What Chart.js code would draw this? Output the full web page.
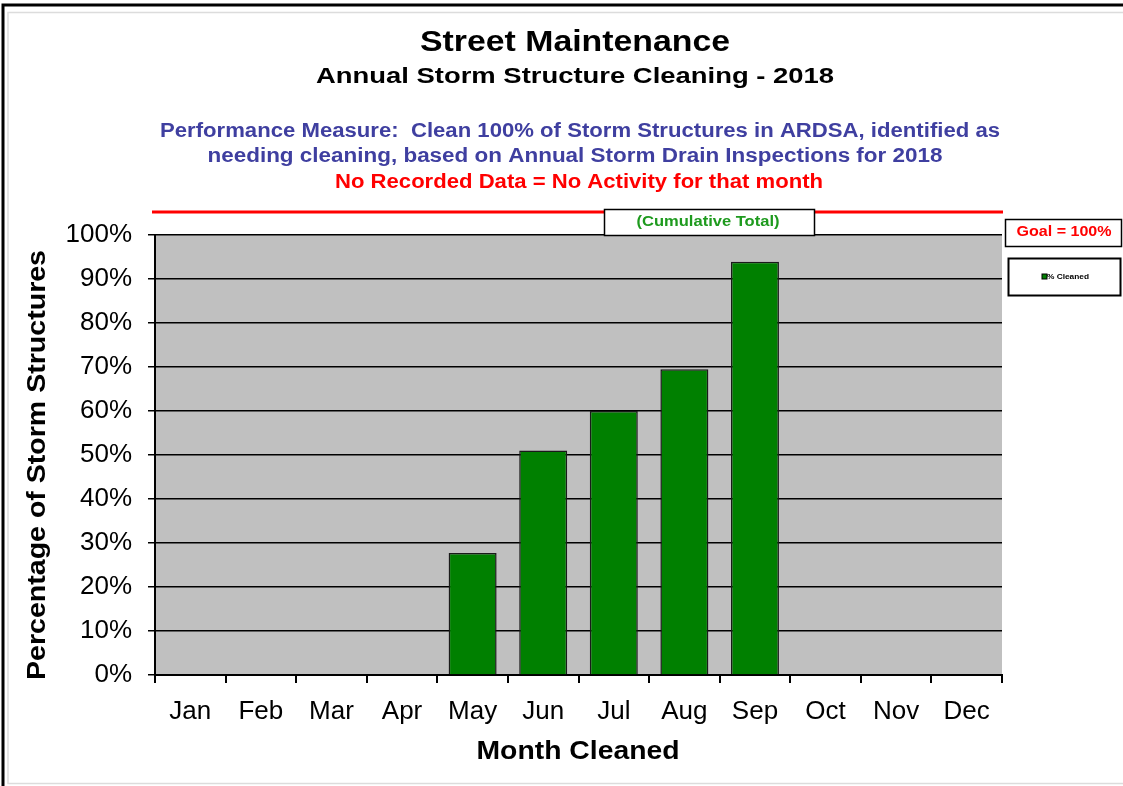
<!DOCTYPE html>
<html>
<head>
<meta charset="utf-8">
<script src="https://cdn.jsdelivr.net/npm/chart.js@4"></script>
<style>
html,body{margin:0;padding:0;background:#fff;}
#wrap{position:relative;width:1123px;height:786px;}
canvas{display:block;}
</style>
</head>
<body>
<div id="wrap"><canvas id="c" width="1123" height="786"></canvas></div>
<script>
const months = ["Jan","Feb","Mar","Apr","May","Jun","Jul","Aug","Sep","Oct","Nov","Dec"];
const pctCleaned = [null,null,null,null,27.7,51,60,69.5,93.9,null,null,null];
const yTicks = [0,10,20,30,40,50,60,70,80,90,100];
const goal = 100;
const titleText = "Street Maintenance";
const subtitleText = "Annual Storm Structure Cleaning - 2018";
const measureLines = ["Performance Measure:  Clean 100% of Storm Structures in ARDSA, identified as","needing cleaning, based on Annual Storm Drain Inspections for 2018"];
const noteText = "No Recorded Data = No Activity for that month";
const FONT = "'Liberation Sans', Arial, sans-serif";

function fitText(ctx, text, cx, cy, font, width, rot){
  ctx.save();
  ctx.font = font;
  ctx.textAlign='center';ctx.textBaseline='middle';
  const w = ctx.measureText(text).width;
  ctx.translate(cx, cy);
  if (rot) ctx.rotate(rot);
  ctx.scale(width / w, 1);
  ctx.fillText(text, 0, 0);
  ctx.restore();
}

const decor = {
  id:'decor',
  beforeDraw(chart){
    const {ctx, chartArea:a} = chart;
    ctx.save();
    ctx.fillStyle='#fff';ctx.fillRect(0,0,chart.width,chart.height);
    ctx.strokeStyle='#000';ctx.lineWidth=3;
    ctx.beginPath();ctx.moveTo(3,786);ctx.lineTo(3,5);ctx.lineTo(1123,5);ctx.stroke();
    ctx.strokeStyle='#dcdcdc';ctx.lineWidth=1.5;
    ctx.strokeRect(8,12.5,1120,771);
    ctx.fillStyle='#C0C0C0';
    ctx.fillRect(a.left,a.top,a.right-a.left,a.bottom-a.top);
    ctx.restore();
  },
  afterDraw(chart){
    const {ctx} = chart;
    ctx.save();
    ctx.fillStyle='#000';
    fitText(ctx, titleText, 575, 43, "bold 29px "+FONT, 310);
    fitText(ctx, subtitleText, 575, 77, "bold 22px "+FONT, 518);
    ctx.fillStyle='#3F3FA0';
    fitText(ctx, measureLines[0], 580, 131, "bold 20px "+FONT, 840);
    fitText(ctx, measureLines[1], 575, 156, "bold 20px "+FONT, 735);
    ctx.fillStyle='#FF0000';
    fitText(ctx, noteText, 579, 182, "bold 20px "+FONT, 488);
    // goal line
    ctx.strokeStyle='#FF0000';ctx.lineWidth=3;
    ctx.beginPath();ctx.moveTo(152,212);ctx.lineTo(1003,212);ctx.stroke();
    // cumulative box
    ctx.fillStyle='#fff';ctx.fillRect(604,209,210,26);
    ctx.strokeStyle='#000';ctx.lineWidth=1.5;ctx.strokeRect(604.5,209.5,210,26);
    ctx.fillStyle='#1E9A1E';
    fitText(ctx, "(Cumulative Total)", 708, 222, "bold 14px "+FONT, 143);
    // goal box
    ctx.fillStyle='#fff';ctx.fillRect(1005,219,116,27);
    ctx.strokeStyle='#000';ctx.lineWidth=1.5;ctx.strokeRect(1005.5,219.5,116,27);
    ctx.fillStyle='#FF0000';
    fitText(ctx, "Goal = "+goal+"%", 1064, 232, "bold 14px "+FONT, 95);
    // legend box
    ctx.strokeStyle='#000';ctx.lineWidth=2;ctx.strokeRect(1008.5,258.5,112,37);
    ctx.fillStyle='#008000';ctx.fillRect(1042,274,5,5);
    ctx.strokeStyle='#000';ctx.lineWidth=1;ctx.strokeRect(1042,274,5,5);
    ctx.fillStyle='#000';
    fitText(ctx, "% Cleaned", 1068, 277, "bold 7px "+FONT, 42);
    // axis titles
    fitText(ctx, "Month Cleaned", 578, 752, "bold 25px "+FONT, 203);
    fitText(ctx, "Percentage of Storm Structures", 38, 465, "bold 25px "+FONT, 430, -Math.PI/2);
    ctx.restore();
  }
};

new Chart(document.getElementById('c'),{
  type:'bar',
  data:{labels:months,datasets:[{label:'% Cleaned',data:pctCleaned,backgroundColor:'#008000',borderColor:'#1a1a1a',borderWidth:1.5,barPercentage:0.68,categoryPercentage:1}]},
  options:{
    responsive:false,animation:false,devicePixelRatio:1,
    layout:{padding:{top:235,right:121,left:0,bottom:0}},
    plugins:{legend:{display:false},tooltip:{enabled:false},title:{display:false}},
    scales:{
      x:{
        afterFit(s){s.height=111;},
        grid:{offset:true,drawOnChartArea:false,drawTicks:true,tickLength:8,color:'#000',lineWidth:2},
        border:{display:true,color:'#000',width:2},
        ticks:{color:'#000',font:{family:FONT,size:26},padding:13}
      },
      y:{
        min:0,max:100,
        afterFit(s){s.width=155;},
        afterBuildTicks(s){s.ticks=yTicks.map(v=>({value:v}));},
        grid:{color:'#000',lineWidth:1.5,drawTicks:true,tickLength:7},
        border:{display:true,color:'#000',width:2},
        ticks:{color:'#000',font:{family:FONT,size:26},padding:16,callback:v=>v+'%'}
      }
    }
  },
  plugins:[decor]
});
</script>
</body>
</html>
